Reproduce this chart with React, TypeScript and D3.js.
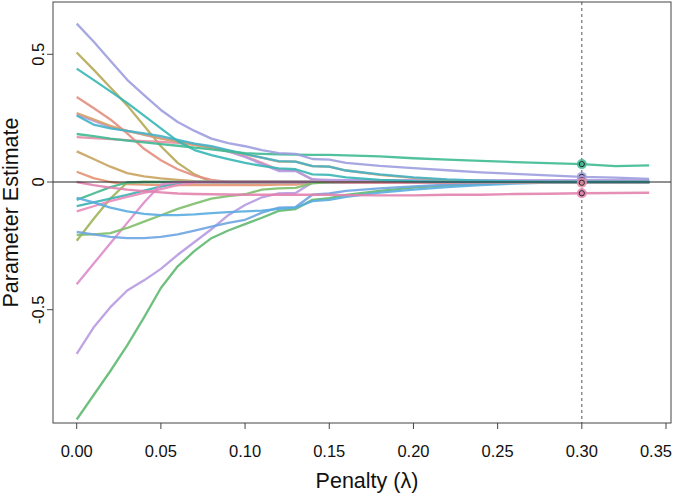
import React from "react";
import * as d3 from "d3";

const LAMBDA = [0, 0.01, 0.02, 0.03, 0.04, 0.05, 0.06, 0.07, 0.08, 0.09, 0.1, 0.11, 0.12, 0.13, 0.14, 0.15, 0.16, 0.18, 0.2, 0.22, 0.24, 0.26, 0.28, 0.3, 0.32, 0.34];

const X_TICKS = [0, 0.05, 0.1, 0.15, 0.2, 0.25, 0.3, 0.35];
const X_TICK_LABELS = ["0.00", "0.05", "0.10", "0.15", "0.20", "0.25", "0.30", "0.35"];
const Y_TICKS = [0.5, 0, -0.5];
const Y_TICK_LABELS = ["0.5", "0", "-0.5"];
const SELECTED_LAMBDA = 0.3;

const A = [0.62, 0.55, 0.475, 0.4, 0.34, 0.282, 0.235, 0.2, 0.17, 0.152, 0.14, 0.125, 0.113, 0.11, 0.09, 0.088, 0.075, 0.063, 0.054, 0.046, 0.038, 0.032, 0.026, 0.02, 0.017, 0.012];
const B = [0.507, 0.44, 0.37, 0.3, 0.22, 0.14, 0.075, 0.03, 0.0, 0, 0, 0, 0, 0, 0, 0, 0, 0, 0, 0, 0, 0, 0, 0, 0, 0];
const C = [0.444, 0.4, 0.355, 0.31, 0.26, 0.21, 0.16, 0.125, 0.105, 0.09, 0.075, 0.063, 0.053, 0.05, 0.03, 0.028, 0.018, 0.008, 0.003, 0.001, 0, 0, 0, 0, 0, 0];
const D = [0.333, 0.29, 0.245, 0.19, 0.13, 0.085, 0.05, 0.025, 0.008, 0, 0, 0, 0, 0, 0, 0, 0, 0, 0, 0, 0, 0, 0, 0, 0, 0];
const E = [0.27, 0.245, 0.22, 0.2, 0.185, 0.17, 0.157, 0.145, 0.135, 0.122, 0.108, 0.095, 0.08, 0.08, 0.062, 0.06, 0.045, 0.028, 0.016, 0.008, 0.003, 0, 0, 0, 0, 0];
const F1 = [0.265, 0.24, 0.215, 0.2, 0.185, 0.172, 0.16, 0.148, 0.135, 0.12, 0.098, 0.07, 0.043, 0.043, 0.01, 0.008, 0.007, 0.007, 0.007, 0.007, 0.007, 0.007, 0.007, 0.007, 0.007, 0.006];
const F2 = [0.26, 0.225, 0.21, 0.2, 0.19, 0.18, 0.165, 0.15, 0.14, 0.125, 0.11, 0.095, 0.082, 0.08, 0.062, 0.06, 0.045, 0.03, 0.018, 0.01, 0.005, 0.002, 0, 0, 0, 0];
const G = [0.188, 0.18, 0.17, 0.162, 0.155, 0.148, 0.142, 0.135, 0.128, 0.12, 0.113, 0.11, 0.108, 0.107, 0.106, 0.106, 0.104, 0.1, 0.093, 0.088, 0.083, 0.078, 0.074, 0.07, 0.062, 0.065];
const H = [0.176, 0.172, 0.168, 0.164, 0.16, 0.157, 0.153, 0.145, 0.135, 0.12, 0.1, 0.075, 0.048, 0.045, 0.01, 0.003, -0.002, -0.003, -0.003, -0.003, -0.003, -0.003, -0.003, -0.003, -0.003, -0.003];
const I = [0.12, 0.09, 0.06, 0.035, 0.022, 0.014, 0.008, 0.003, 0, 0, 0, 0, 0, 0, 0, 0, 0, 0, 0, 0, 0, 0, 0, 0, 0, 0];
const J = [0.04, 0.015, 0.0, -0.008, -0.01, -0.012, -0.012, -0.012, -0.012, -0.012, -0.012, -0.012, -0.01, -0.01, -0.002, 0, 0, 0, 0, 0, 0, 0, 0, 0, 0, 0];
const K = [0.0, -0.012, -0.022, -0.03, -0.036, -0.041, -0.045, -0.047, -0.048, -0.049, -0.05, -0.05, -0.05, -0.05, -0.05, -0.05, -0.051, -0.052, -0.052, -0.05, -0.05, -0.047, -0.046, -0.044, -0.043, -0.042];
const L = [-0.07, -0.045, -0.02, -0.002, 0, 0, 0, 0, 0, 0, 0, 0, 0, 0, 0, 0, 0, 0, 0, 0, 0, 0, 0, 0, 0, 0];
const M = [-0.062, -0.08, -0.1, -0.115, -0.125, -0.13, -0.13, -0.127, -0.122, -0.118, -0.115, -0.112, -0.105, -0.1, -0.075, -0.07, -0.058, -0.042, -0.03, -0.02, -0.012, -0.006, -0.002, 0, 0, 0];
const N = [-0.094, -0.08, -0.065, -0.05, -0.034, -0.018, -0.003, 0, 0, 0, 0, 0, 0, 0, 0, 0, 0, 0, 0, 0, 0, 0, 0, 0, 0, 0];
const O = [-0.115, -0.095, -0.075, -0.058, -0.043, -0.028, -0.012, -0.002, 0, 0, 0, 0, 0, 0, 0, 0, 0, 0, 0, 0, 0, 0, 0, 0, 0, 0];
const P = [-0.195, -0.205, -0.215, -0.22, -0.22, -0.215, -0.205, -0.19, -0.175, -0.16, -0.148, -0.12, -0.1, -0.098, -0.05, -0.045, -0.035, -0.025, -0.017, -0.01, -0.005, -0.002, 0, 0, 0, 0];
const Q = [-0.207, -0.205, -0.2, -0.18, -0.155, -0.13, -0.105, -0.085, -0.065, -0.055, -0.048, -0.03, -0.025, -0.023, -0.005, 0, 0, 0, 0, 0, 0, 0, 0, 0, 0, 0];
const R = [-0.23, -0.145, -0.065, -0.002, 0, 0, 0, 0, 0, 0, 0, 0, 0, 0, 0, 0, 0, 0, 0, 0, 0, 0, 0, 0, 0, 0];
const S = [-0.4, -0.32, -0.24, -0.16, -0.08, -0.01, 0, 0, 0, 0, 0, 0, 0, 0, 0, 0, 0, 0, 0, 0, 0, 0, 0, 0, 0, 0];
const T = [-0.673, -0.57, -0.49, -0.425, -0.385, -0.34, -0.285, -0.235, -0.185, -0.13, -0.09, -0.06, -0.045, -0.043, -0.002, 0, 0, 0, 0, 0, 0, 0, 0, 0, 0, 0];
const U = [-0.93, -0.835, -0.74, -0.64, -0.53, -0.415, -0.33, -0.27, -0.22, -0.19, -0.165, -0.14, -0.113, -0.106, -0.07, -0.063, -0.05, -0.035, -0.022, -0.013, -0.007, -0.003, -0.001, 0, 0, 0];

const SERIES = [
  { name: "b", values: B, color: "#b6a957" },
  { name: "d", values: D, color: "#e48e80" },
  { name: "i", values: I, color: "#c9a35e" },
  { name: "j", values: J, color: "#e39471" },
  { name: "r", values: R, color: "#9db556" },
  { name: "l", values: L, color: "#42b88e" },
  { name: "n", values: N, color: "#3db3b3" },
  { name: "o", values: O, color: "#e98ab9" },
  { name: "s", values: S, color: "#dd8ccb" },
  { name: "t", values: T, color: "#b79ae0" },
  { name: "u", values: U, color: "#5fb870" },
  { name: "q", values: Q, color: "#7dbf6a" },
  { name: "p", values: P, color: "#6fa4e2" },
  { name: "m", values: M, color: "#5aace0" },
  { name: "h", values: H, color: "#e78da3" },
  { name: "f1", values: F1, color: "#b39ae0" },
  { name: "e", values: E, color: "#d9a06b" },
  { name: "f2", values: F2, color: "#45b2c6" },
  { name: "c", values: C, color: "#38b6b6" },
  { name: "k", values: K, color: "#e282ae" },
  { name: "g", values: G, color: "#3fba94" },
  { name: "a", values: A, color: "#9d9ddf" },
];

const SELECTED = ["g", "a", "f1", "h", "k"];

const W = 675;
const Hh = 494;
const BOX = { left: 53, right: 671, top: 2, bottom: 423 };

export default function App() {
  const x = d3.scaleLinear().domain([0, 0.35]).range([76.7, 666]);
  const y = d3.scaleLinear().domain([0.5, -0.5]).range([54.3, 309.7]);
  const line = d3
    .line<number>()
    .x((_, i) => x(LAMBDA[i]))
    .y((v) => y(v));
  const selIdx = LAMBDA.indexOf(SELECTED_LAMBDA);
  const font = "'Liberation Sans', Arial, Helvetica, sans-serif";

  return (
    <svg
      width={W}
      height={Hh}
      style={{ position: "absolute", left: 0, top: 0, background: "#fff" }}
      fontFamily={font}
    >
      <rect x={0} y={0} width={W} height={Hh} fill="#fff" />
      <g>
        {SERIES.map((s) => (
          <path
            key={s.name}
            d={line(s.values) || ""}
            fill="none"
            stroke={s.color}
            strokeWidth={2.3}
            strokeOpacity={0.9}
            strokeLinejoin="round"
          />
        ))}
      </g>
      <line x1={BOX.left} x2={BOX.right} y1={y(0)} y2={y(0)} stroke="#222" strokeWidth={1} />
      <line
        x1={x(SELECTED_LAMBDA)}
        x2={x(SELECTED_LAMBDA)}
        y1={BOX.top}
        y2={BOX.bottom}
        stroke="#555"
        strokeWidth={1}
        strokeDasharray="3,3"
      />
      {SELECTED.map((n) => {
        const s = SERIES.find((d) => d.name === n)!;
        const cx = x(SELECTED_LAMBDA);
        const cy = y(s.values[selIdx]);
        return (
          <g key={n}>
            <circle cx={cx} cy={cy} r={5} fill={s.color} fillOpacity={0.85} />
            <circle cx={cx} cy={cy} r={2.6} fill="none" stroke="#222" strokeWidth={1} />
          </g>
        );
      })}
      <rect
        x={BOX.left}
        y={BOX.top}
        width={BOX.right - BOX.left}
        height={BOX.bottom - BOX.top}
        fill="none"
        stroke="#444"
        strokeWidth={1}
      />
      {X_TICKS.map((t, i) => (
        <g key={t}>
          <line x1={x(t)} x2={x(t)} y1={BOX.bottom} y2={BOX.bottom + 6} stroke="#444" />
          <text
            x={Math.min(x(t), W - 19)}
            y={457}
            textAnchor="middle"
            fontSize={16.5}
            fill="#111"
          >
            {X_TICK_LABELS[i]}
          </text>
        </g>
      ))}
      {Y_TICKS.map((t, i) => (
        <g key={t}>
          <line x1={BOX.left - 6} x2={BOX.left} y1={y(t)} y2={y(t)} stroke="#444" />
          <text
            transform={`translate(43.5,${y(t)}) rotate(-90)`}
            textAnchor="middle"
            fontSize={16.5}
            fill="#111"
          >
            {Y_TICK_LABELS[i]}
          </text>
        </g>
      ))}
      <text x={367} y={488} textAnchor="middle" fontSize={21.5} fill="#111">
        Penalty (λ)
      </text>
      <text
        transform={`translate(17.5,${(BOX.top + BOX.bottom) / 2}) rotate(-90)`}
        textAnchor="middle"
        fontSize={21.5}
        fill="#111"
      >
        Parameter Estimate
      </text>
    </svg>
  );
}
